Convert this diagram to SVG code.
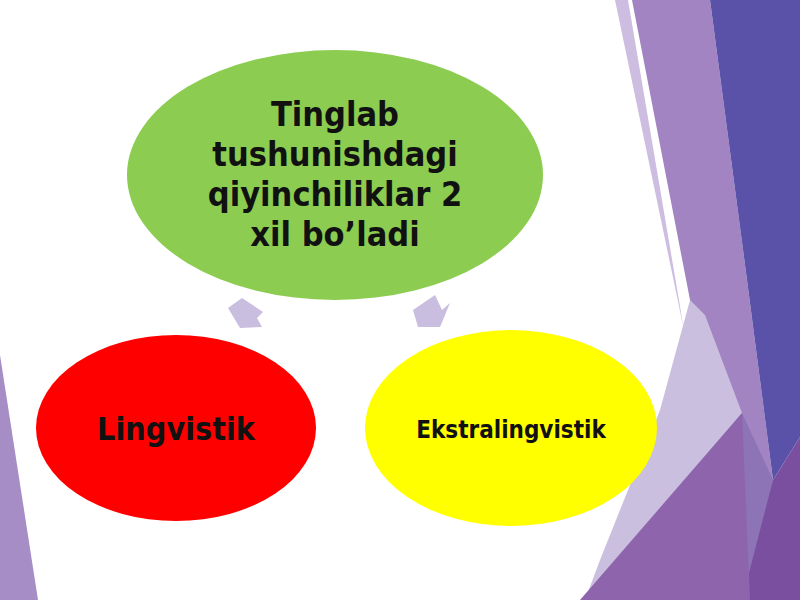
<svg xmlns="http://www.w3.org/2000/svg" width="800" height="600" viewBox="0 0 800 600">
<style>
.lbl{font-family:"DejaVu Sans Condensed","DejaVu Sans",sans-serif;font-weight:bold;fill:#111;text-anchor:middle}
.arr{fill:#c9bde0}
</style>
<rect width="800" height="600" fill="#ffffff"/>
<g id="background">
<polygon points="0,355 38,600 0,600" fill="#a68dc6"/>
<polygon points="615,0 628,0 684,330" fill="#cdbde0"/>
<polygon points="632,0 710,0 747,280 773,480 760,600 700,600 690,300" fill="#a384c3"/>
<polygon points="690,300 705,315 742,413 585,600 600,560 660,410" fill="#cbbfe0"/>
<polygon points="742,413 773,480 745,600 740,600" fill="#8c74b6"/>
<polygon points="710,0 800,0 800,437 773,480 747,280" fill="#5952a8"/>
<polygon points="800,437 773,480 742,600 800,600" fill="#7a4f9f"/>
<polygon points="742,413 750,600 580,600" fill="#8e65ad"/>
</g>
<g id="connectors">
<polygon class="arr" points="242,298 228,308 240,328 262,327 257,318 263,312"/>
<polygon class="arr" points="435,295 413,310 418,327 440,327 450,303 442,310"/>
</g>
<g id="node-top">
<ellipse cx="335" cy="175" rx="208" ry="125" fill="#8ccc50"/>
<text class="lbl" font-size="34" x="335" y="126">Tinglab</text>
<text class="lbl" font-size="34" x="335" y="166">tushunishdagi</text>
<text class="lbl" font-size="34" x="335" y="206">qiyinchiliklar 2</text>
<text class="lbl" font-size="34" x="335" y="246">xil bo’ladi</text>
</g>
<g id="node-left">
<ellipse cx="176" cy="428" rx="140" ry="93" fill="#ff0000"/>
<text class="lbl" font-size="32" x="176" y="440">Lingvistik</text>
</g>
<g id="node-right">
<ellipse cx="511" cy="428" rx="146" ry="98" fill="#ffff00"/>
<text class="lbl" font-size="24" x="511" y="438">Ekstralingvistik</text>
</g>
</svg>
